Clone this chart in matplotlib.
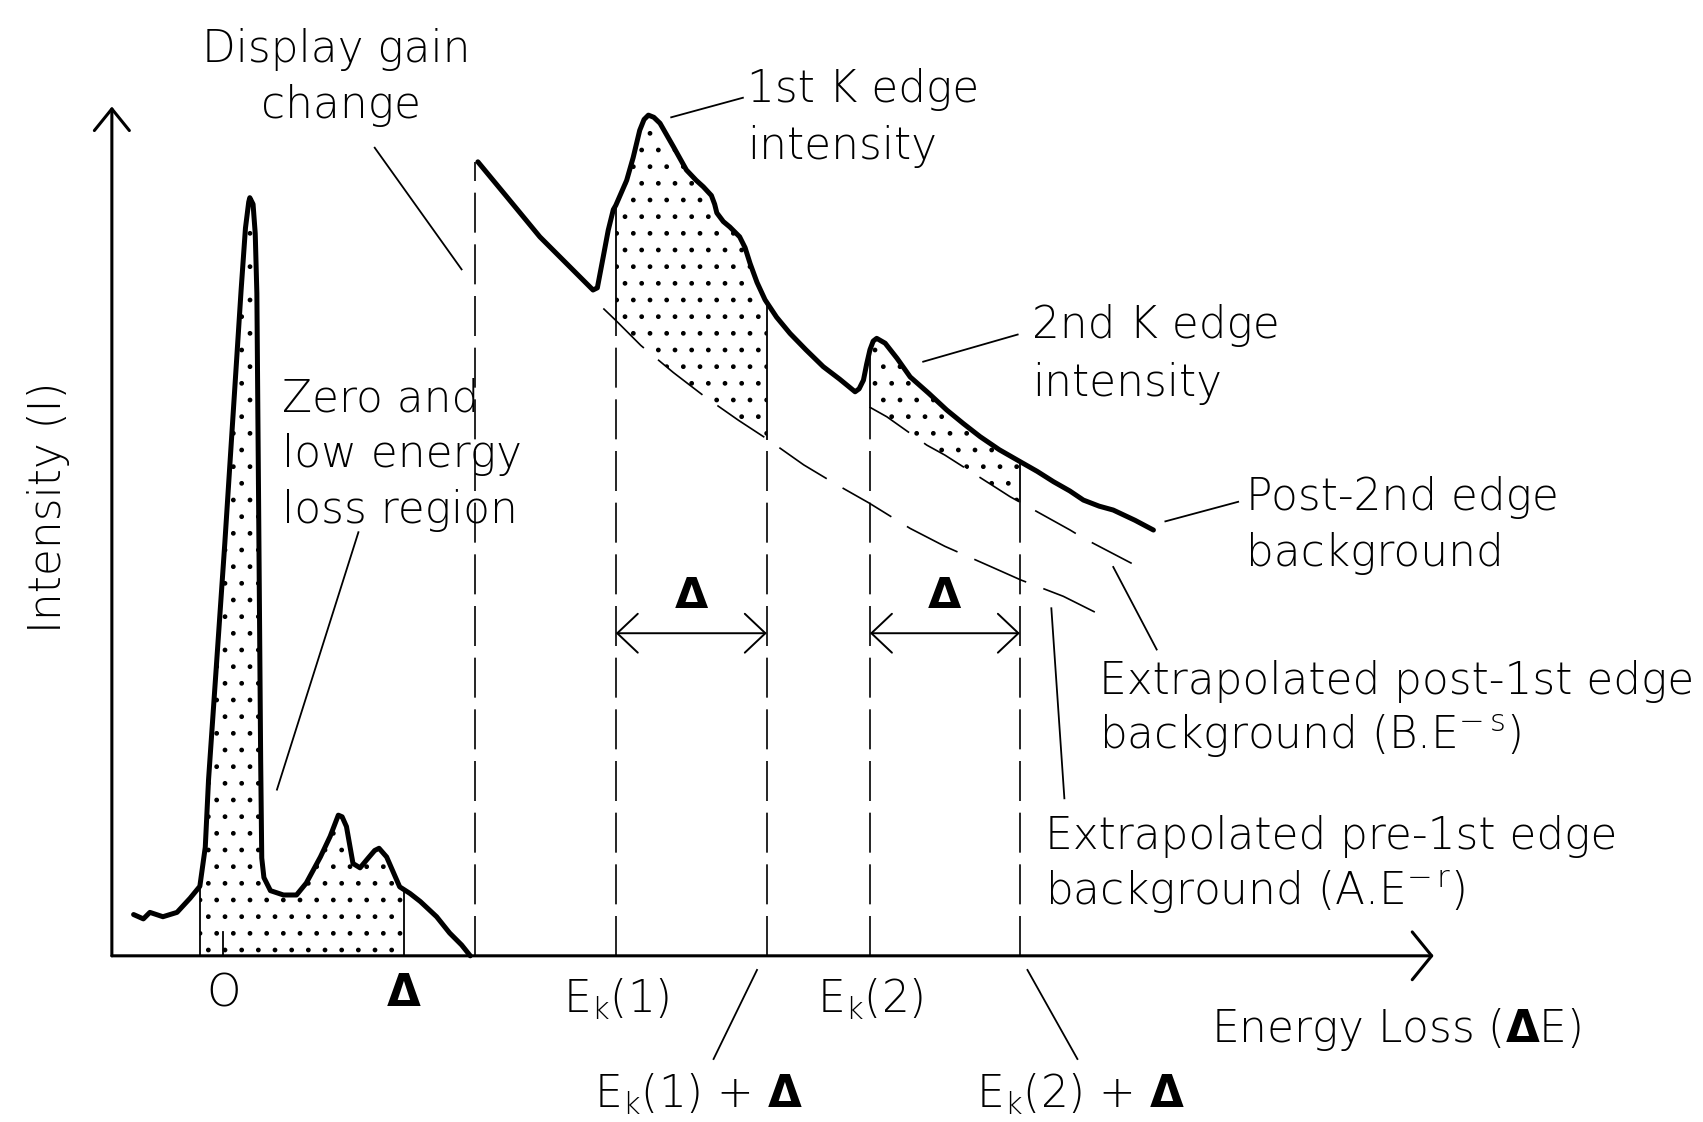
import numpy as np
import matplotlib.pyplot as plt

plt.rcParams['font.family'] = ['DejaVu Sans']
plt.rcParams['font.weight'] = 'light'
plt.rcParams['mathtext.default'] = 'regular'
plt.rcParams['hatch.linewidth'] = 1.0

# spectrum, arbitrary units: energy loss -> intensity
# zero loss + plasmon part (normal gain)
low_E = [20, 29, 35, 47, 60, 72, 81, 86, 89, 104, 119, 123, 126, 127, 130, 132, 133.5, 135, 137, 138,
         140, 146, 158, 170, 179, 192, 201, 206, 208.5, 212, 216, 222, 228.5, 236, 242, 246, 253, 265, 274.5, 284,
         299, 311, 322, 330]
low_I = [38, 34, 40, 36, 40, 53, 64, 100, 162, 380, 613, 670, 694, 698, 692, 665, 610, 430, 180, 90,
         72, 60, 56, 56, 67, 91, 110, 123, 129.5, 128, 119, 85, 81, 90, 97, 99, 91, 63.5, 57.4, 50,
         36, 21, 10, 0]

# core loss part (after display gain change)
high_E = [337, 363.5, 394, 425, 437, 443, 447, 452.5, 457, 461.7, 464, 474, 480, 486, 490, 494, 499, 504.7, 517, 529,
          538, 544.6, 552, 555, 557, 563, 569, 578, 583, 587.6, 594, 601.4, 612, 624.4, 639, 655, 670, 684.3, 688, 692,
          695, 698, 701, 704.2, 712, 723, 735, 752, 768.7, 784, 799.4, 817, 836.2, 852, 867, 882, 894.5, 909, 922, 942,
          959]
high_I = [731, 699, 662, 631, 619, 613, 615, 644, 668, 687, 691, 714, 735, 760, 770, 774, 772, 766.5, 745, 723.5,
          714, 708, 700, 692, 684, 676, 671, 662, 652, 637.5, 620, 604, 588, 573, 558, 542.4, 531, 519.3, 522, 530,
          545, 558, 566, 568.5, 564, 550, 533, 518, 502.5, 490, 478, 466, 455, 446, 436.5, 428, 419.6, 414, 410.4, 401,
          392]

# extrapolated backgrounds
bgA_E = [452.5, 464, 487, 517, 547, 577, 603, 637, 667, 697, 735, 767, 810, 837, 876, 910]
bgA_I = [596, 585, 562, 537, 514, 493, 476, 452, 434, 417, 393.5, 377, 358, 346, 331, 314]
bgB_E = [698, 713.5, 750.3, 767, 815, 827, 882.3, 895, 939]
bgB_I = [505, 496.3, 470.2, 461, 430.4, 422.7, 392, 384.3, 361.3]

# energies on the axis
zero_E = 102.5
low_start = 81
delta_E = 269
gain_E = 334
Ek1, Ek1d = 464, 603
Ek2, Ek2d = 698, 836

fig = plt.figure(figsize=(17.03, 11.22), dpi=100)
ax = fig.add_axes([0, 0, 1, 1])
ax.set_xlim(-103, 1465)
ax.set_ylim(-153, 880)
ax.axis('off')

K = 'black'
thin = 1.3
dash = (0, (24, 7))

# axes with open arrow heads
ax.annotate('', xy=(0, 782), xytext=(0, 0),
            arrowprops=dict(arrowstyle='->,head_length=0.78,head_width=0.63', lw=2.2, color=K,
                            shrinkA=0, shrinkB=0, mutation_scale=20))
ax.annotate('', xy=(1217, 0), xytext=(0, 0),
            arrowprops=dict(arrowstyle='->,head_length=0.7,head_width=0.86', lw=2.2, color=K,
                            shrinkA=0, shrinkB=0, mutation_scale=20))


def grid(E, I, a, b):
    g = np.linspace(a, b, 300)
    return g, np.interp(g, E, I)


# stippled areas
g, s = grid(low_E, low_I, low_start, delta_E)
ax.fill_between(g, 0, s, facecolor='none', edgecolor=K, hatch='.', linewidth=0)
g, s = grid(high_E, high_I, Ek1, Ek1d)
ax.fill_between(g, np.interp(g, bgA_E, bgA_I), s, facecolor='none', edgecolor=K, hatch='.', linewidth=0)
g, s = grid(high_E, high_I, Ek2, Ek2d)
ax.fill_between(g, np.interp(g, bgB_E, bgB_I), s, facecolor='none', edgecolor=K, hatch='.', linewidth=0)

# spectrum
ax.plot(low_E, low_I, color=K, lw=3.6, solid_joinstyle='round', solid_capstyle='round')
ax.plot(high_E, high_I, color=K, lw=3.6, solid_joinstyle='round', solid_capstyle='round')

# backgrounds
ax.plot(bgA_E, bgA_I, color=K, lw=1.2, ls=(0, (34, 11)))
ax.plot(bgB_E, bgB_I, color=K, lw=1.2, ls=(0, (28, 11)))

# vertical markers
ax.plot([low_start, low_start], [0, np.interp(low_start, low_E, low_I)], color=K, lw=thin)
ax.plot([delta_E, delta_E], [0, np.interp(delta_E, low_E, low_I)], color=K, lw=thin)
ax.plot([zero_E, zero_E], [0, 22], color=K, lw=thin)
ax.plot([gain_E, gain_E], [0, high_I[0]], color=K, lw=1.2, ls=dash)
for e, bgE, bgI in [(Ek1, bgA_E, bgA_I), (Ek1d, bgA_E, bgA_I), (Ek2, bgB_E, bgB_I), (Ek2d, bgB_E, bgB_I)]:
    b = np.interp(e, bgE, bgI)
    ax.plot([e, e], [0, b], color=K, lw=1.2, ls=dash)
    ax.plot([e, e], [b, np.interp(e, high_E, high_I)], color=K, lw=thin)

# delta intervals
for a, b in [(Ek1, Ek1d), (Ek2, Ek2d)]:
    ax.annotate('', xy=(b, 297), xytext=(a, 297),
                arrowprops=dict(arrowstyle='<->,head_length=0.74,head_width=0.7', lw=1.4, color=K,
                                shrinkA=0, shrinkB=0, mutation_scale=20))
    ax.text((a + b) / 2, 331, 'Δ', fontsize=31, fontweight='bold', ha='center', va='center')

# callout leader lines
leaders = [((242, 744), (322, 632)), ((515, 772), (581, 790)), ((227, 390), (152, 153)),
           ((747, 547), (834, 572)), ((970, 400), (1037, 418)), ((922, 358), (962, 282)),
           ((865, 320), (877, 145)), ((594, -13), (554, -95)), ((843, -13), (889, -95))]
for p, q in leaders:
    ax.plot([p[0], q[0]], [p[1], q[1]], color=K, lw=thin)

fs = 31.5
labels = [
    ('Display gain', 207, 834, 'center'), ('change', 211, 783, 'center'),
    ('1st K edge', 585, 798, 'left'), ('intensity', 585, 745, 'left'),
    ('Zero and', 157, 513, 'left'), ('low energy', 157, 462, 'left'), ('loss region', 157, 410, 'left'),
    ('2nd K edge', 847, 580, 'left'), ('intensity', 847, 527, 'left'),
    ('Post-2nd edge', 1044, 422, 'left'), ('background', 1044, 370, 'left'),
    ('Extrapolated post-1st edge', 909, 253, 'left'), ('background (B.E$^{-\\,s}$)', 909, 202, 'left'),
    ('Extrapolated pre-1st edge', 859, 110, 'left'), ('background (A.E$^{-\\,r}$)', 859, 58, 'left'),
    ('O', zero_E, -35, 'center'),
    ('E$_k$(1)', Ek1, -40, 'center'), ('E$_k$(2)', Ek2, -40, 'center'),
    ('E$_k$(1) + $\\mathbf{\\Delta}$', 540, -128, 'center'), ('E$_k$(2) + $\\mathbf{\\Delta}$', 892, -128, 'center'),
    ('Energy Loss ($\\mathbf{\\Delta}$E)', 1012, -68, 'left'),
]
for t, x, y, ha in labels:
    ax.text(x, y, t, fontsize=fs, ha=ha, va='center')
ax.text(delta_E, -35, 'Δ', fontsize=fs, fontweight='bold', ha='center', va='center')
ax.text(-58, 413, 'Intensity (I)', fontsize=fs, rotation=90, ha='center', va='center')

fig.savefig('out.png', dpi=100)
